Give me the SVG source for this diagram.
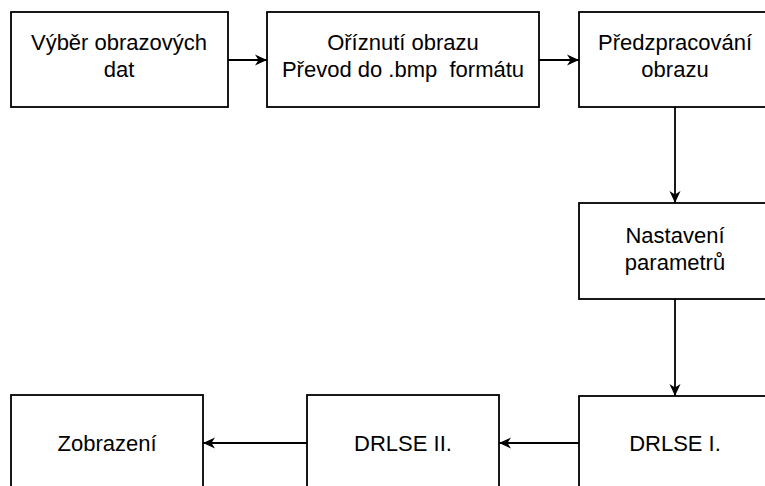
<svg xmlns="http://www.w3.org/2000/svg" width="765" height="486" viewBox="0 0 765 486">
<defs>
<style>
.box{fill:#fff;stroke:#000;stroke-width:1.8}
.t{font-family:"Liberation Sans",Arial,sans-serif;font-size:22px;fill:#000;text-anchor:middle;white-space:pre}
.c{fill:none;stroke:#000;stroke-width:1.8}
</style>
<marker id="arr" viewBox="0 0 12 12" refX="12" refY="6" markerWidth="12" markerHeight="12" markerUnits="userSpaceOnUse" orient="auto">
<path d="M0,0.5 L12,6 L0,11.5 L3.5,6 z" fill="#000"/>
</marker>
</defs>
<rect width="765" height="486" fill="#fff"/>
<g id="connectors">
<line class="c" x1="228" y1="60" x2="267" y2="60" marker-end="url(#arr)"/>
<line class="c" x1="539" y1="60" x2="579" y2="60" marker-end="url(#arr)"/>
<line class="c" x1="675" y1="107" x2="675" y2="203" marker-end="url(#arr)"/>
<line class="c" x1="675" y1="299" x2="675" y2="396" marker-end="url(#arr)"/>
<line class="c" x1="579" y1="443" x2="499" y2="443" marker-end="url(#arr)"/>
<line class="c" x1="307" y1="443" x2="203" y2="443" marker-end="url(#arr)"/>
</g>
<g id="n1">
<rect class="box" x="11" y="12" width="217" height="95"/>
<text class="t" x="119" y="50">Výběr obrazových</text>
<text class="t" x="119" y="77">dat</text>
</g>
<g id="n2">
<rect class="box" x="267" y="12" width="272" height="95"/>
<text class="t" x="403" y="50">Oříznutí obrazu</text>
<text class="t" x="403" y="77" xml:space="preserve">Převod do .bmp  formátu</text>
</g>
<g id="n3">
<rect class="box" x="579" y="12" width="192" height="95"/>
<text class="t" x="675" y="50">Předzpracování</text>
<text class="t" x="675" y="77">obrazu</text>
</g>
<g id="n4">
<rect class="box" x="579" y="203" width="192" height="96"/>
<text class="t" x="675" y="243">Nastavení</text>
<text class="t" x="675" y="270">parametrů</text>
</g>
<g id="n5">
<rect class="box" x="579" y="396" width="192" height="95"/>
<text class="t" x="675" y="451">DRLSE I.</text>
</g>
<g id="n6">
<rect class="box" x="307" y="395" width="192" height="96"/>
<text class="t" x="403" y="451">DRLSE II.</text>
</g>
<g id="n7">
<rect class="box" x="11" y="395" width="192" height="96"/>
<text class="t" x="107" y="451">Zobrazení</text>
</g>
</svg>
